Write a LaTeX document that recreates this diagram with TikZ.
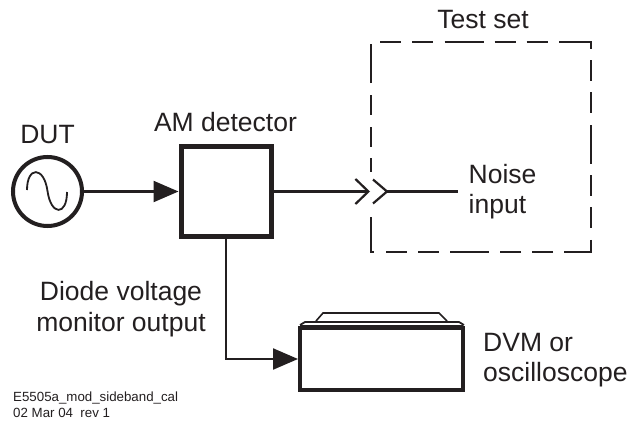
\documentclass[tikz,border=0pt]{standalone}
\usepackage{fontspec}
\setmainfont{Liberation Sans}
\usetikzlibrary{arrows.meta,positioning}
\definecolor{inkblack}{HTML}{231F20}

\begin{document}
\begin{tikzpicture}[
  x=1pt, y=-1pt,
  line join=miter,
  font=\fontsize{26.5}{30.5}\selectfont,
  label/.style={text=inkblack, inner sep=0pt, align=left},
  tinylabel/.style={text=inkblack, inner sep=0pt, align=left, font=\fontsize{13.3}{16}\selectfont},
  wire/.style={draw=inkblack, line width=2.2pt},
  feed/.style={wire, -{Triangle[length=25pt,width=21pt]}},
  jack/.style={wire, -{Straight Barb[length=13pt,width=25pt]}},
  dutshape/.style={circle, draw=inkblack, line width=4pt, inner sep=0pt, minimum size=69pt},
  amshape/.style={rectangle, draw=inkblack, line width=5pt, inner sep=0pt, minimum size=90pt},
  dvmshape/.style={rectangle, draw=inkblack, line width=4pt, inner sep=0pt, minimum width=163pt, minimum height=62pt},
  testdash/.style={draw=inkblack, line width=2.4pt, dash pattern=on 39pt off 11pt on 21pt off 11pt on 21pt off 11.7pt}
]
\useasboundingbox (0,0) rectangle (628,420);
\fill[white] (0,0) rectangle (628,420);

% Source, detector and meter.
\node[dutshape] (dut) at (47.5,191.5) {};
\node[amshape] (amdet) at (226,191.5) {};
\node[dvmshape] (dvm) at (381.5,359) {};

% Sine wave in the source.
\draw[inkblack, line width=1.8pt] (27,190) .. controls (27,166) and (44,166) .. (47.5,191)
  .. controls (51,216) and (67,216) .. (67,192);

% Meter top and lid.
\fill[inkblack] (300,325) rectangle (463,329);
\draw[wire, line width=1.8pt] (300,325) -- (305,322) -- (459,322) -- (464,325);
\draw[wire, line width=1.6pt] (316,321) -- (323,313) -- (439,313) -- (447,321);

% Test set outline.
\draw[testdash] (371,83) -- (371,42) -- (591,42) -- (591,252) -- (371,252) -- (371,217);
\foreach \a/\b in {95/115,127/147,158/172}{
  \draw[wire, line width=2.4pt] (371,\a) -- (371,\b);
}

% Connectors.
\coordinate (jackTip) at (370,191.5);
\coordinate (plugTip) at (387,191.5);
\coordinate (noiseEnd) at (458,191.5);
\draw[feed] (dut.east) -- (amdet.west);
\draw[jack] (amdet.east) -- (jackTip);
\draw[feed] (amdet.south) |- (dvm.west);
\draw[wire] (plugTip) -- (noiseEnd);
\draw[wire] (373,179.5) -- (plugTip) -- (373,203.5);

% Labels.
\node[label, anchor=base] (testLabel) at (483,29) {Test set};
\node[label, anchor=base] (dutLabel) at (47.5,143) {DUT};
\node[label, anchor=base] (amLabel) at (225.5,131) {AM detector};
\node[label, anchor=west] (noiseLabel) at (468.5,191.5) {Noise\\input};
\node[label, align=center, anchor=center] (diodeLabel) at (121,309) {Diode voltage\\monitor output};
\node[label, anchor=west] (dvmLabel) at (483,360) {DVM or\\oscilloscope};
\node[tinylabel, anchor=west] (partLabel) at (13,404.5) {E5505a\_mod\_sideband\_cal\\02 Mar 04~~rev 1};

\end{tikzpicture}
\end{document}
